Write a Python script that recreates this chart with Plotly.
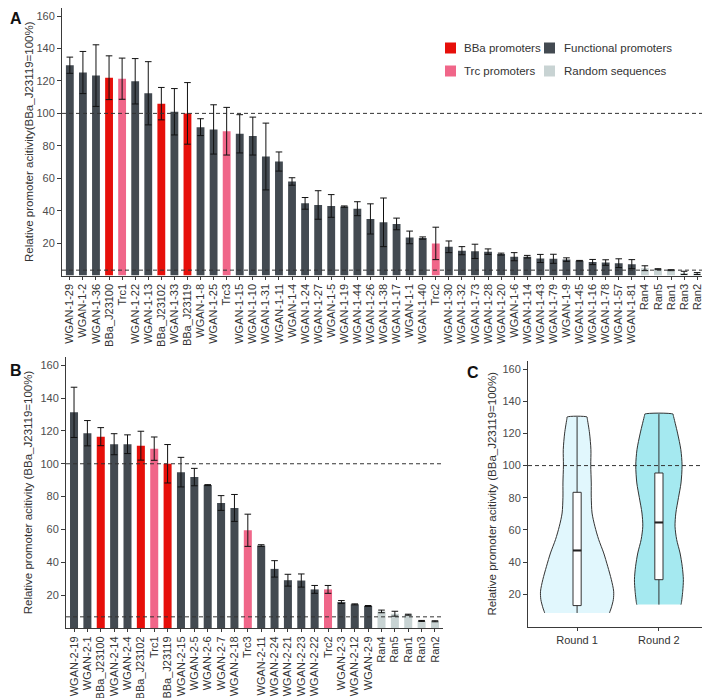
import plotly.graph_objects as go

# ---------------- Panel A data ----------------
A_labels = ["WGAN-1-29", "WGAN-1-2", "WGAN-1-36", "BBa_J23100", "Trc1", "WGAN-1-22", "WGAN-1-13",
            "BBa_J23102", "WGAN-1-33", "BBa_J23119", "WGAN-1-8", "WGAN-1-25", "Trc3", "WGAN-1-15",
            "WGAN-1-10", "WGAN-1-31", "WGAN-1-11", "WGAN-1-4", "WGAN-1-24", "WGAN-1-27", "WGAN-1-5",
            "WGAN-1-19", "WGAN-1-44", "WGAN-1-26", "WGAN-1-38", "WGAN-1-17", "WGAN-1-1", "WGAN-1-40",
            "Trc2", "WGAN-1-30", "WGAN-1-32", "WGAN-1-73", "WGAN-1-28", "WGAN-1-20", "WGAN-1-6",
            "WGAN-1-14", "WGAN-1-43", "WGAN-1-79", "WGAN-1-9", "WGAN-1-45", "WGAN-1-16", "WGAN-1-78",
            "WGAN-1-57", "WGAN-1-81", "Ran4", "Ran5", "Ran1", "Ran3", "Ran2"]
A_values = [129.7, 125.2, 123.3, 122.0, 121.4, 119.8, 112.4, 106.0, 101.0, 100.0, 91.5, 90.1, 89.0, 87.4,
            86.0, 73.4, 70.3, 58.0, 44.5, 43.5, 42.9, 42.5, 41.2, 34.9, 32.8, 31.8, 23.5, 23.1,
            19.8, 17.7, 15.3, 14.9, 14.7, 13.2, 11.6, 11.6, 10.5, 10.3, 9.8, 9.1, 8.3, 8.0,
            7.6, 7.0, 4.5, 3.9, 3.3, 1.6, 1.2]
A_sd = [5.0, 13.0, 19.0, 13.5, 12.7, 14.0, 19.5, 10.0, 14.3, 19.0, 5.2, 15.2, 14.7, 11.8,
        11.7, 20.6, 5.9, 2.3, 3.6, 8.8, 7.0, 0.4, 4.3, 9.3, 15.0, 3.6, 3.9, 0.7,
        10.0, 3.6, 2.5, 4.4, 1.7, 0.6, 2.5, 0.8, 2.5, 2.8, 1.1, 0.2, 1.6, 1.7,
        2.7, 2.8, 1.5, 0.3, 0.3, 1.0, 0.6]
A_groups = ["F", "F", "F", "B", "T", "F", "F", "B", "F", "B", "F", "F", "T", "F",
            "F", "F", "F", "F", "F", "F", "F", "F", "F", "F", "F", "F", "F", "F",
            "T", "F", "F", "F", "F", "F", "F", "F", "F", "F", "F", "F", "F", "F",
            "F", "F", "R", "R", "R", "R", "R"]
A_ref_lines = [100, 3.3]

# ---------------- Panel B data ----------------
B_labels = ["WGAN-2-19", "WGAN-2-1", "BBa_J23100", "WGAN-2-14", "WGAN-2-4", "BBa_J23102", "Trc1",
            "BBa_J23119", "WGAN-2-15", "WGAN-2-5", "WGAN-2-6", "WGAN-2-7", "WGAN-2-18", "Trc3",
            "WGAN-2-11", "WGAN-2-24", "WGAN-2-21", "WGAN-2-23", "WGAN-2-22", "Trc2", "WGAN-2-3",
            "WGAN-2-12", "WGAN-2-9", "Ran4", "Ran5", "Ran1", "Ran3", "Ran2"]
B_values = [131.3, 118.6, 116.5, 111.9, 111.9, 111.0, 109.2, 100.0, 94.9, 91.9, 87.0, 76.1, 73.1, 59.5,
            50.2, 36.0, 29.1, 28.9, 23.5, 23.5, 15.8, 14.4, 13.4, 10.1, 8.7, 8.1, 4.3, 4.1]
B_sd = [15.3, 7.7, 5.5, 6.4, 5.7, 8.8, 7.1, 11.7, 9.0, 5.3, 0.3, 4.5, 8.2, 9.8,
        0.5, 5.0, 3.6, 4.0, 2.4, 2.4, 0.9, 0.3, 0.3, 0.8, 1.5, 0.3, 0.3, 0.3]
B_groups = ["F", "F", "B", "F", "F", "B", "T", "B", "F", "F", "F", "F", "F", "T",
            "F", "F", "F", "F", "F", "T", "F", "F", "F", "R", "R", "R", "R", "R"]
B_ref_lines = [100, 6.8]

# ---------------- Panel C data ----------------
C_rounds = ["Round 1", "Round 2"]
# violin outline: value levels and half widths (x units)
R1_levels = [8.4, 9.2, 11.5, 16.7, 21.9, 29.1, 37.4, 45.7, 54.0, 62.3, 70.5, 80.3, 89.2, 100.1,
             109.9, 120.2, 129.4, 130.2]
R1_halfwidth = [0.396, 0.401, 0.417, 0.443, 0.447, 0.419, 0.374, 0.325, 0.264, 0.217, 0.183, 0.173,
                0.173, 0.167, 0.169, 0.152, 0.124, 0.122]
R2_levels = [13.6, 14.4, 21.9, 29.1, 37.4, 45.7, 54.0, 62.3, 70.5, 80.3, 89.2, 100.1, 109.9, 120.2,
             131.2, 132.0]
R2_halfwidth = [0.270, 0.274, 0.291, 0.299, 0.285, 0.258, 0.217, 0.197, 0.207, 0.240, 0.270, 0.283,
                0.268, 0.228, 0.176, 0.173]
C_q1 = [13.0, 29.1]
C_median = [47.3, 64.7]
C_q3 = [83.4, 95.4]
C_min = [8.4, 13.6]
C_max = [130.2, 132.0]
C_fill = ["#E1F7FD", "#A5E9F0"]
C_ref_line = 100
BOX_WIDTH = 0.1

y_tickvals = [20, 40, 60, 80, 100, 120, 140, 160]

GROUPS = {
    "F": ("Functional promoters", "#434A51"),
    "B": ("BBa promoters", "#E60F0A"),
    "T": ("Trc promoters", "#F06689"),
    "R": ("Random sequences", "#C8D3D3"),
}
GROUP_ORDER = ["F", "B", "T", "R"]
# legend layout: group -> (square left px, row centre px, text left px)
LEGEND_POS = {"B": (445, 48, 462), "F": (544, 48, 562), "T": (445, 71, 462), "R": (544, 71, 562)}

FONT = "Arial, 'Liberation Sans', sans-serif"
AXIS_COLOR = "#3a3a3a"
TICK_FONT = dict(family=FONT, size=11, color="#4D4D4D")

# the page body has an 8px margin; the figure fills the rest of the 710x698 window
OFF = 8
W, H = 710 - OFF, 698 - OFF


def px_x(p):
    return (p - OFF) / W


def px_y(p):
    return 1 - (p - OFF) / H


fig = go.Figure()


def add_bars(labels, values, sds, groups, xa, ya):
    for code in GROUP_ORDER:
        name, color = GROUPS[code]
        idx = [i for i, g in enumerate(groups) if g == code]
        fig.add_trace(go.Bar(
            x=[labels[i] for i in idx],
            y=[values[i] for i in idx],
            error_y=dict(type="data", array=[sds[i] for i in idx], visible=True,
                         color="#111111", thickness=1, width=3.3),
            marker=dict(color=color, line=dict(width=0)),
            width=0.6, name=name, showlegend=False,
            xaxis=xa, yaxis=ya,
        ))


add_bars(A_labels, A_values, A_sd, A_groups, "x", "y")
add_bars(B_labels, B_values, B_sd, B_groups, "x2", "y2")

# Panel C: violins on x3/y3, boxes on overlaid x4/y4 so they sit on top
for k, (levels, hw) in enumerate([(R1_levels, R1_halfwidth), (R2_levels, R2_halfwidth)]):
    center = k + 1
    xs = [center - w for w in hw] + [center + w for w in reversed(hw)]
    ys = list(levels) + list(reversed(levels))
    fig.add_trace(go.Scatter(
        x=xs, y=ys, mode="lines", fill="toself", fillcolor=C_fill[k],
        line=dict(color="#333333", width=1, shape="spline", smoothing=0.8),
        showlegend=False, hoverinfo="skip", xaxis="x3", yaxis="y3",
    ))
for k in range(2):
    fig.add_trace(go.Box(
        x=[k + 1], q1=[C_q1[k]], median=[C_median[k]], q3=[C_q3[k]],
        lowerfence=[C_min[k]], upperfence=[C_max[k]],
        width=BOX_WIDTH, whiskerwidth=0, fillcolor="white", boxpoints=False,
        line=dict(color="#333333", width=1),
        showlegend=False, xaxis="x4", yaxis="y4",
    ))
    # bold median bar, as in the original
    fig.add_trace(go.Scatter(
        x=[k + 1 - BOX_WIDTH / 2, k + 1 + BOX_WIDTH / 2], y=[C_median[k], C_median[k]],
        mode="lines", line=dict(color="#222222", width=2),
        showlegend=False, hoverinfo="skip", xaxis="x4", yaxis="y4",
    ))

common_y = dict(range=[0, 165], tickmode="array", tickvals=y_tickvals, ticks="outside", ticklen=4,
                tickcolor=AXIS_COLOR, showline=True, linecolor=AXIS_COLOR, linewidth=1, showgrid=False,
                zeroline=False, tickfont=TICK_FONT, automargin=False)
common_x = dict(ticks="outside", ticklen=3, tickcolor=AXIS_COLOR, showline=True, linecolor=AXIS_COLOR,
                linewidth=1, showgrid=False, zeroline=False, automargin=False,
                tickfont=dict(family=FONT, size=11, color="#333333"))
title_font = dict(family=FONT, size=11.5, color="#333333")

fig.update_layout(
    template="none",
    width=W, height=H,
    margin=dict(l=0, r=0, t=0, b=0, pad=0),
    paper_bgcolor="white", plot_bgcolor="white",
    font=dict(family=FONT, color="#333333"),
    barmode="overlay",
    showlegend=False,
    xaxis=dict(common_x, domain=[px_x(62), px_x(705)], anchor="y",
               type="category", categoryorder="array", categoryarray=A_labels,
               tickmode="array", tickvals=A_labels, ticktext=A_labels,
               range=[-0.6, len(A_labels) - 1 + 0.6], tickangle=-90),
    yaxis=dict(common_y, domain=[px_y(275.5), px_y(8)], anchor="x",
               title=dict(text="Relative promoter acitivity(BBa_J23119=100%)", font=title_font, standoff=0)),
    xaxis2=dict(common_x, domain=[px_x(66), px_x(443)], anchor="y2",
                type="category", categoryorder="array", categoryarray=B_labels,
                tickmode="array", tickvals=B_labels, ticktext=B_labels,
                range=[-0.6, len(B_labels) - 1 + 0.6], tickangle=-90),
    yaxis2=dict(common_y, domain=[px_y(628), px_y(357)], anchor="x2",
                title=dict(text="Relative promoter acitivity (BBa_J23119=100%)", font=title_font, standoff=5)),
    xaxis3=dict(common_x, domain=[px_x(528), px_x(708)], anchor="y3",
                range=[0.4, 2.6], tickmode="array", tickvals=[1, 2], ticktext=C_rounds),
    yaxis3=dict(common_y, domain=[px_y(626.5), px_y(361)], anchor="x3",
                title=dict(text="Relative promoter acitivity (BBa_J23119=100%)", font=title_font, standoff=3)),
    xaxis4=dict(overlaying="x3", anchor="y4", range=[0.4, 2.6], visible=False),
    yaxis4=dict(overlaying="y3", anchor="x4", range=[0, 165], visible=False),
)

shapes = []
dash_line = dict(color="#333333", width=1, dash="4px,3px")
for v in A_ref_lines:
    shapes.append(dict(type="line", xref="x domain", yref="y", x0=0, x1=1, y0=v, y1=v,
                       line=dash_line, layer="above"))
for v in B_ref_lines:
    shapes.append(dict(type="line", xref="x2 domain", yref="y2", x0=0, x1=1, y0=v, y1=v,
                       line=dash_line, layer="above"))
shapes.append(dict(type="line", xref="x3 domain", yref="y3", x0=0, x1=1, y0=C_ref_line, y1=C_ref_line,
                   line=dash_line, layer="above"))

# manual 2x2 legend for panel A
for code, (sx, cy, tx) in LEGEND_POS.items():
    name, color = GROUPS[code]
    shapes.append(dict(type="rect", xref="paper", yref="paper",
                       x0=px_x(sx), x1=px_x(sx + 11), y0=px_y(cy + 5.5), y1=px_y(cy - 5.5),
                       fillcolor=color, line=dict(width=0), layer="above"))
    fig.add_annotation(text=name, xref="paper", yref="paper", x=px_x(tx), y=px_y(cy),
                       xanchor="left", yanchor="middle", showarrow=False,
                       font=dict(family=FONT, size=11.5, color="#333333"))
fig.update_layout(shapes=shapes)

for letter, x, y in [("A", 1, 1), ("B", 1, 360), ("C", 465, 362)]:
    fig.add_annotation(text="<b>%s</b>" % letter, xref="paper", yref="paper",
                       x=px_x(max(x, OFF)), y=px_y(max(y, OFF)), xanchor="left", yanchor="top",
                       showarrow=False, font=dict(family=FONT, size=16, color="#111111"))

fig.write_html("out.html")
